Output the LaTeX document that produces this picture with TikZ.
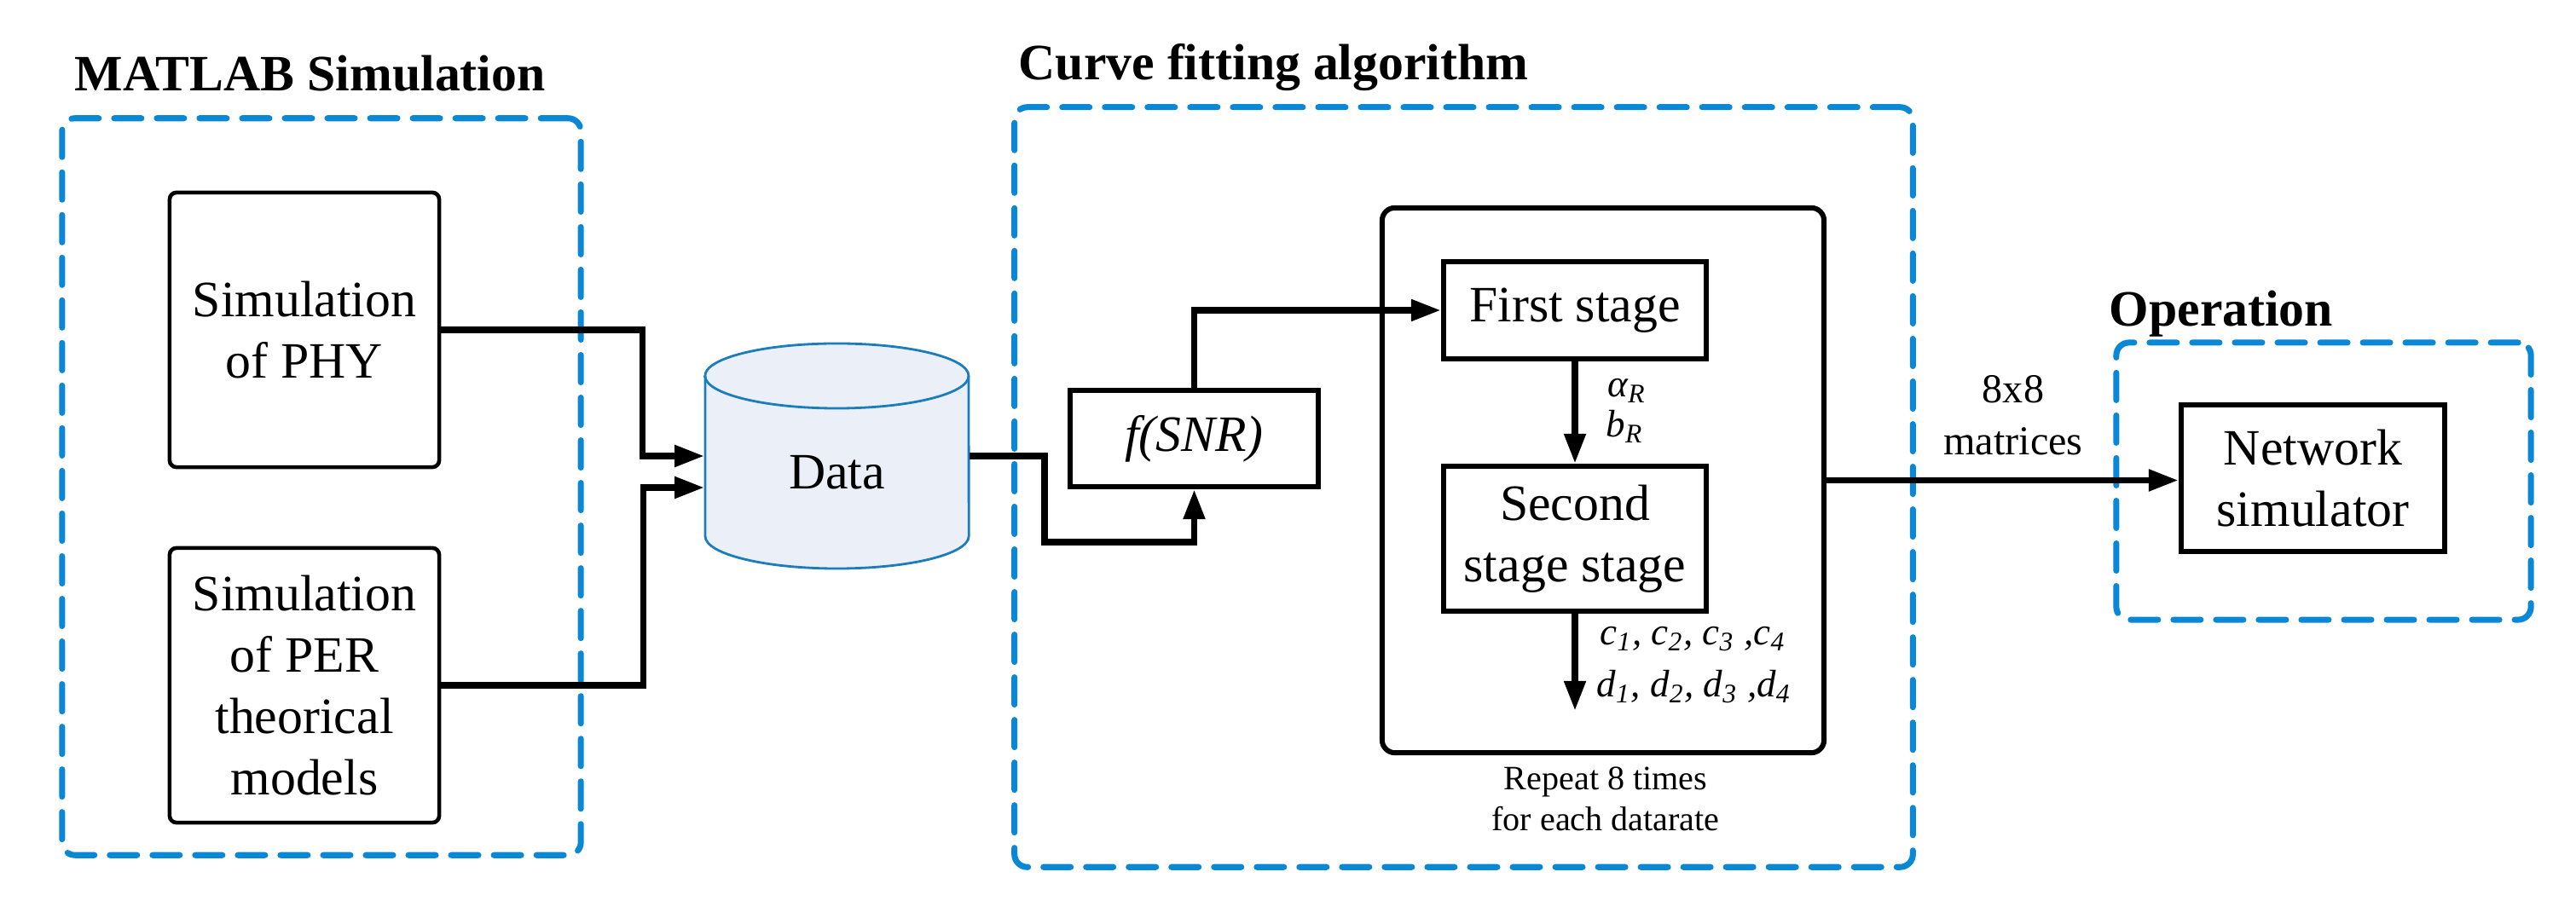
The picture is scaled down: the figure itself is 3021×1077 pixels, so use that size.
\documentclass[tikz,border=0pt]{standalone}
\usepackage{fontspec}
\setmainfont{Liberation Serif}
\usetikzlibrary{arrows.meta,calc}
\definecolor{grpblue}{HTML}{0A88D6}
\definecolor{cylblue}{HTML}{1C7DBA}
\definecolor{cylfill}{HTML}{EBF0F8}
\newcommand{\bigfont}{\fontsize{17pt}{20.5pt}\selectfont}
\newcommand{\lblfont}{\fontsize{12.8pt}{15pt}\selectfont}
\newcommand{\matfont}{\fontsize{13.7pt}{17.4pt}\selectfont}
\newcommand{\repfont}{\fontsize{11.4pt}{13.7pt}\selectfont}
\begin{document}
\begin{tikzpicture}[x=0.01cm,y=-0.01cm,
  group/.style={draw=grpblue, line width=2pt, dash pattern=on 0.32cm off 0.18cm, rounded corners=0.15cm, inner sep=0, line cap=round},
  grouptitle/.style={font=\bigfont\bfseries, inner sep=0},
  simbox/.style={draw, line width=1.3pt, rounded corners=0.08cm, inner sep=0, align=center, font=\bigfont},
  stepbox/.style={draw, line width=1.7pt, inner sep=0, align=center, font=\bigfont},
  conn/.style={line width=2.2pt, line join=miter, -{Triangle[length=3.5mm,width=2.4mm]}},
  lbl/.style={font=\lblfont\itshape, inner sep=0},
]
\useasboundingbox (0,0) rectangle (3021,1077);

% group frames
\node[group, minimum width=6.08cm, minimum height=8.64cm] (g1) at (377,571) {};
\node[group, minimum width=10.53cm, minimum height=8.91cm] (g2) at (1716.5,571.5) {};
\node[group, minimum width=4.86cm, minimum height=3.25cm] (g3) at (2725,564.5) {};
\node[grouptitle, anchor=base west] (t1) at (87,107) {MATLAB Simulation};
\node[grouptitle, anchor=base west] (t2) at (1194,94) {Curve fitting algorithm};
\node[grouptitle, anchor=base west] (t3) at (2473,383) {Operation};

% simulation boxes
\node[simbox, minimum width=3.16cm, minimum height=3.22cm] (phy) at (357,387) {Simulation\\of PHY};
\node[simbox, minimum width=3.16cm, minimum height=3.22cm] (per) at (357,804) {Simulation\\of PER\\theorical\\models};

% data cylinder
\filldraw[fill=cylfill, draw=cylblue, line width=0.8pt]
  (827,441) -- (827,629) arc[start angle=180, end angle=360, x radius=1.545cm, y radius=0.38cm]
  -- (1136,441) arc[start angle=0, end angle=180, x radius=1.545cm, y radius=0.38cm] -- cycle;
\draw[cylblue, line width=0.8pt] (1136,441) arc[start angle=0, end angle=-180, x radius=1.545cm, y radius=0.38cm];
\node[inner sep=0, minimum width=3.09cm, minimum height=2.64cm, text height=1cm, text depth=0.24cm, font=\bigfont] (data) at (981.5,535) {Data};

% curve fitting
\node[stepbox, minimum width=2.91cm, minimum height=1.13cm, font=\bigfont\itshape] (fsnr) at (1400.5,514.5) {f(SNR)};
\node[draw, line width=1.7pt, rounded corners=0.15cm, minimum width=5.18cm, minimum height=6.39cm, inner sep=0] (rep) at (1880,563.5) {};
\node[stepbox, minimum width=3.08cm, minimum height=1.14cm] (first) at (1847,364) {First stage};
\node[stepbox, minimum width=3.08cm, minimum height=1.70cm] (second) at (1847,632) {Second\\stage stage};
\node[lbl, anchor=base west] (alab) at (1885,466) {α\textsubscript{R}};
\node[lbl, anchor=base west] (blab) at (1883,513) {b\textsubscript{R}};
\node[lbl, anchor=base west] (clab) at (1876,757) {c\textsubscript{1}, c\textsubscript{2}, c\textsubscript{3} ,c\textsubscript{4}};
\node[lbl, anchor=base west] (dlab) at (1872,818) {d\textsubscript{1}, d\textsubscript{2}, d\textsubscript{3} ,d\textsubscript{4}};
\node[inner sep=0, align=center, font=\repfont, anchor=north] (reptxt) at (1883,899) {Repeat 8 times\\for each datarate};

% operation
\node[stepbox, minimum width=3.09cm, minimum height=1.72cm] (net) at (2712.5,561) {Network\\simulator};
\node[inner sep=0, align=center, font=\matfont, anchor=north] (mtx) at (2361,440) {8x8\\matrices};

% connectors
\draw[conn] (phy.east) -- ++(236,0) |- (data.west);
\draw[conn] (per.east) -- ++(237,0) |- ([yshift=-0.37cm]data.west);
\draw[conn] (data.east) -- ++(88,0) |- ([yshift=-0.62cm]fsnr.south) -- (fsnr.south);
\draw[conn] (fsnr.north) |- (first.west);
\draw[conn] (first) -- (second);
\coordinate (endc) at (1847,834);
\draw[conn] (second.south) -- (endc);
\draw[conn] (rep.east) -- (rep.east -| net.west);
\end{tikzpicture}
\end{document}
